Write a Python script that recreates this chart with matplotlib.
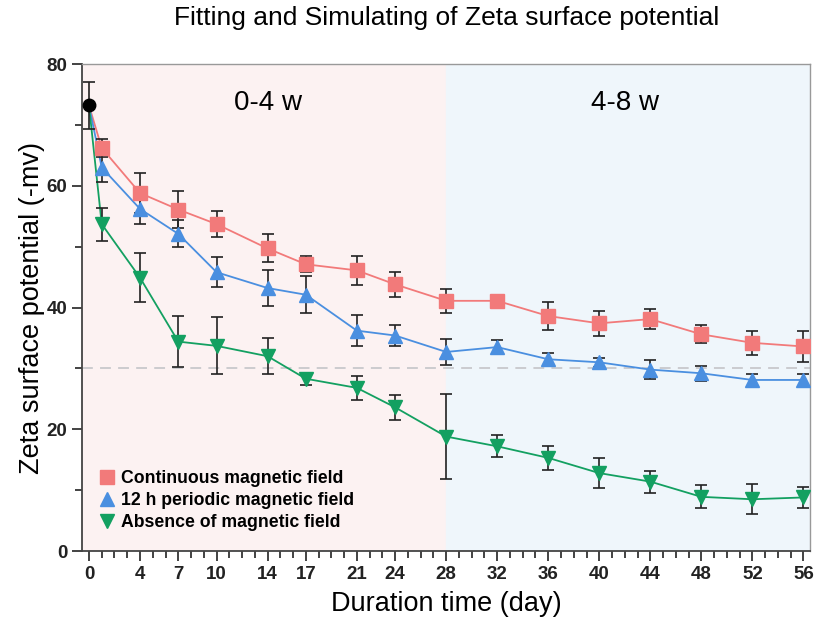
import matplotlib
matplotlib.use("Agg")
import matplotlib.pyplot as plt
import numpy as np

plt.rcParams["font.family"] = ["Liberation Sans", "DejaVu Sans"]

days = [1, 4, 7, 10, 14, 17, 21, 24, 28, 32, 36, 40, 44, 48, 52, 56]
major_days = [0, 4, 7, 10, 14, 17, 21, 24, 28, 32, 36, 40, 44, 48, 52, 56]
start_val, start_err = 73.2, 3.9

cont = [66.2, 58.8, 56.1, 53.7, 49.7, 47.1, 46.1, 43.8, 41.1, 41.1, 38.6, 37.4, 38.1, 35.6, 34.2, 33.6]
cont_err = [1.5, 3.3, 3.0, 2.1, 2.3, 1.3, 2.4, 2.1, 2.0, 0.0, 2.3, 2.1, 1.7, 1.5, 2.0, 2.6]
peri = [63.0, 56.2, 52.1, 45.8, 43.2, 42.1, 36.2, 35.4, 32.7, 33.5, 31.5, 31.0, 29.8, 29.2, 28.1, 28.1]
peri_err = [2.3, 2.5, 2.2, 2.5, 3.0, 3.0, 2.5, 1.7, 2.2, 1.1, 1.1, 0.7, 1.6, 1.2, 1.0, 1.0]
absn = [53.7, 44.9, 34.4, 33.7, 32.0, 28.3, 26.8, 23.6, 18.8, 17.2, 15.3, 12.8, 11.4, 8.9, 8.5, 8.8]
absn_err = [2.7, 4.0, 4.2, 4.7, 3.0, 1.0, 2.0, 2.0, 7.0, 1.8, 2.0, 2.4, 1.8, 1.9, 2.5, 1.7]

series = [
    ("Continuous magnetic field", cont, cont_err, "#F27A7A", "s"),
    ("12 h periodic magnetic field", peri, peri_err, "#4A8FE0", "^"),
    ("Absence of magnetic field", absn, absn_err, "#13A061", "v"),
]

fig = plt.figure(figsize=(8.18, 6.21), dpi=100)
ax = fig.add_axes([0.1002, 0.1127, 0.8905, 0.7842])

ax.axvspan(-0.55, 28, color="#FCF2F2", zorder=0)
ax.axvspan(28, 56.55, color="#EFF6FB", zorder=0)
ax.axhline(30, color="#C8C8CC", lw=1.3, ls=(0, (6, 4)), zorder=1)

for label, vals, errs, col, mk in series:
    x = [0] + days
    y = [start_val] + vals
    ax.plot(x, y, color=col, lw=1.3, zorder=2)
    ax.errorbar(days, vals, yerr=errs, fmt="none", ecolor="#222222",
                elinewidth=1.2, capsize=4.5, capthick=1.2, zorder=3)
    ax.plot(days, vals, ls="none", marker=mk, ms=10, color=col,
            mec=col, label=label, zorder=4)

ax.errorbar([0], [start_val], yerr=[start_err], fmt="none", ecolor="#222222",
            elinewidth=1.2, capsize=4.5, capthick=1.2, zorder=3)
ax.plot([0], [start_val], "o", color="black", ms=9, zorder=5)

ax.text(14, 73.6, "0-4 w", ha="center", va="center", fontsize=20)
ax.text(42, 73.6, "4-8 w", ha="center", va="center", fontsize=20)

ax.set_xlim(-0.55, 56.55)
ax.set_ylim(0, 80)
ax.set_xticks(major_days)
ax.set_xticks(np.arange(0, 57, 1), minor=True)
ax.set_yticks([0, 20, 40, 60, 80])
ax.set_yticks([10, 30, 50, 70], minor=True)
ax.tick_params(axis="both", which="major", direction="out", length=7,
               width=1.2, labelsize=13.5, colors="#222222")
ax.tick_params(axis="both", which="minor", direction="out", length=5,
               width=1.2, colors="#222222")
for t in ax.get_xticklabels() + ax.get_yticklabels():
    t.set_fontweight("bold")

for s in ["left", "bottom"]:
    ax.spines[s].set_color("#444444")
    ax.spines[s].set_linewidth(1.3)
for s in ["top", "right"]:
    ax.spines[s].set_color("#999999")
    ax.spines[s].set_linewidth(1.0)

ax.set_xlabel("Duration time (day)", fontsize=19.5, labelpad=6)
ax.set_ylabel("Zeta surface potential (-mv)", fontsize=19.5, labelpad=1)
fig.text(0.5455, 0.971, "Fitting and Simulating of Zeta surface potential",
         ha="center", va="center", fontsize=19)

ax.legend(loc="lower left", bbox_to_anchor=(0.0, 0.008), frameon=False,
          handletextpad=0.3, handlelength=1.0, labelspacing=0.28,
          prop={"weight": "bold", "size": 12.7})

fig.savefig("out.png", dpi=100)
